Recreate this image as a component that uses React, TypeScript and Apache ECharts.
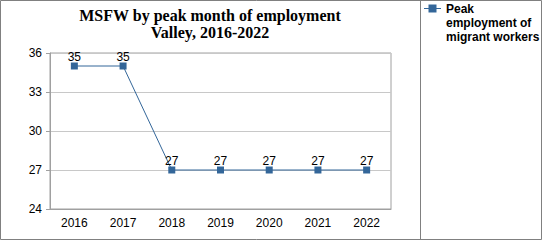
import React, { useEffect, useRef } from "react";
import * as echarts from "echarts";

const years = ["2016", "2017", "2018", "2019", "2020", "2021", "2022"];
const peakEmployment = [35, 35, 27, 27, 27, 27, 27];
const seriesName = "Peak employment of migrant workers";
const legendLines = ["Peak", "employment of", "migrant workers"];
const titleLines = ["MSFW by peak month of employment", "Valley, 2016-2022"];
const seriesColor = "#336699";

export default function App() {
  const ref = useRef<HTMLDivElement>(null);
  useEffect(() => {
    document.body.style.margin = "0";
    const chart = echarts.init(ref.current!, null, { renderer: "svg" });
    chart.setOption({
      animation: false,
      backgroundColor: "#fff",
      title: {
        text: titleLines.join("\n"),
        left: 210,
        top: 7,
        padding: 0,
        textAlign: "center",
        textStyle: {
          fontFamily: "Liberation Serif",
          fontWeight: "bold",
          fontSize: 16,
          lineHeight: 17,
          color: "#000",
        },
      },
      graphic: [
        {
          type: "rect",
          shape: { x: 0.5, y: 0.5, width: 541, height: 239 },
          style: { fill: "none", stroke: "#808080", lineWidth: 1 },
          silent: true,
        },
        {
          type: "line",
          shape: { x1: 420.5, y1: 0, x2: 420.5, y2: 240 },
          style: { stroke: "#808080", lineWidth: 1 },
          silent: true,
        },
        {
          type: "line",
          shape: { x1: 424, y1: 8.5, x2: 441, y2: 8.5 },
          style: { stroke: seriesColor, lineWidth: 1 },
          silent: true,
        },
        {
          type: "rect",
          shape: { x: 428.5, y: 4.5, width: 8, height: 8 },
          style: { fill: seriesColor },
          silent: true,
        },
        {
          type: "text",
          x: 446,
          y: 2,
          style: {
            text: legendLines.join("\n"),
            fontFamily: "Liberation Sans",
            fontWeight: "bold",
            fontSize: 12,
            lineHeight: 14,
            fill: "#000",
          },
          silent: true,
        },
      ],
      grid: {
        left: 50,
        right: 151,
        top: 53,
        bottom: 31,
        show: true,
        borderColor: "#a0a0a0",
        borderWidth: 1,
      },
      xAxis: {
        type: "category",
        data: years,
        boundaryGap: true,
        axisLine: { lineStyle: { color: "#a0a0a0" } },
        axisTick: { alignWithLabel: true, length: 4, lineStyle: { color: "#a0a0a0" } },
        axisLabel: { fontFamily: "Liberation Sans", fontSize: 12, color: "#000", margin: 8 },
      },
      yAxis: {
        type: "value",
        min: 24,
        max: 36,
        interval: 3,
        axisLine: { show: true, lineStyle: { color: "#a0a0a0" } },
        axisTick: { show: true, length: 4, lineStyle: { color: "#a0a0a0" } },
        splitLine: { lineStyle: { color: "#c8c8c8" } },
        axisLabel: { fontFamily: "Liberation Sans", fontSize: 12, color: "#000", margin: 8 },
      },
      series: [
        {
          name: seriesName,
          type: "line",
          data: peakEmployment,
          symbol: "rect",
          symbolSize: 7,
          itemStyle: { color: seriesColor },
          lineStyle: { color: seriesColor, width: 1 },
          label: {
            show: true,
            position: "top",
            distance: 0,
            fontFamily: "Liberation Sans",
            fontSize: 12,
            color: "#000",
          },
        },
      ],
    });
    return () => chart.dispose();
  }, []);
  return <div ref={ref} style={{ width: 542, height: 240 }} />;
}
